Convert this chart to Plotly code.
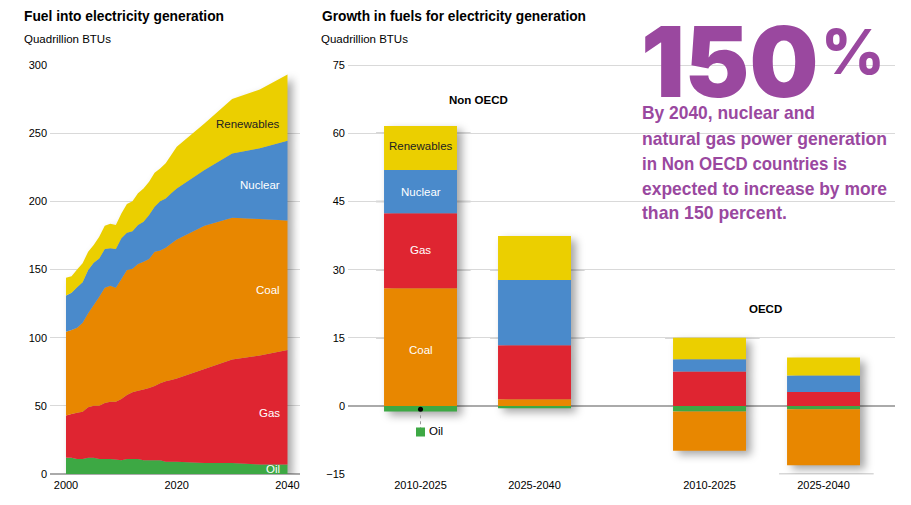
# Fuel use for electricity generation: stacked area plus growth bars.
import json
import plotly.graph_objects as go

W, H = 911, 505

years = [2000, 2001, 2002, 2003, 2004, 2005, 2006, 2007, 2008, 2009, 2010, 2011, 2012,
         2013, 2014, 2015, 2016, 2017, 2018, 2019, 2020, 2025, 2030, 2035, 2040]
oil = [12, 12, 11, 11, 12, 12, 11, 11, 11, 10.7, 10, 11, 11,
       11, 10, 10, 10, 10, 9, 9, 9, 8, 8, 7, 7]
gas = [31, 32, 34, 34.7, 37, 38, 39, 41, 42, 42.3, 45, 47, 49,
       50, 52, 53, 54.5, 56.5, 59, 60, 61, 69, 76, 80, 84]
coal = [61.4, 61.6, 62.3, 65.3, 69, 74, 80, 84.7, 85, 83.7, 88, 91.6, 90.6,
        93, 93.7, 94.7, 98.5, 97.5, 98, 100, 102, 105, 104, 100, 95]
nuclear = [26.6, 27.4, 29.7, 29.6, 31.6, 31, 28, 28.3, 27.5, 28.3, 30, 27.4, 27.4,
           28.6, 29.3, 32.3, 33, 36, 36, 37, 37.5, 41, 47, 52, 58.5]
renewables = [13, 12, 13, 13.9, 13.4, 13, 16, 17, 18.1, 17.6, 18, 21, 22,
              23.4, 24.5, 24.4, 25, 24, 26, 28, 30.5, 34, 40, 43, 48.5]

periods = ["2010-2025", "2025-2040", "2010-2025", "2025-2040"]
slots = [0, 1, 2.535, 3.535]
bar_oil = [-1.2, -0.5, -1.2, -0.7]
bar_coal = [25.9, 1.5, -8.6, -12.3]
bar_gas = [16.5, 11.9, 7.6, 3.1]
bar_nuclear = [9.5, 14.3, 2.7, 3.65]
bar_renewables = [9.7, 9.7, 4.7, 3.95]
# darker stubs of gridline that sit behind each bar
bar_stubs = [[60, 45, 30, 15], [30, 15], [15], [-15]]

callout_lines = ["By 2040, nuclear and", "natural gas power generation", "in Non OECD countries is",
                 "expected to increase by more", "than 150 percent."]
callout_widths = [173, 245, 205, 245, 145]
titles = ["Fuel into electricity generation", "Growth in fuels for electricity generation"]
title_widths = [200, 264]

colors = {"Oil": "#3DA844", "Gas": "#DF2531", "Coal": "#E88700", "Nuclear": "#4A8ACB", "Renewables": "#EBCF00"}
PURPLE = "#9A489F"
SANS = "Liberation Sans"

fig = go.Figure()

area_series = {"Oil": oil, "Gas": gas, "Coal": coal, "Nuclear": nuclear, "Renewables": renewables}
for name, vals in area_series.items():
    fig.add_trace(go.Scatter(x=years, y=vals, name=name, stackgroup="one", mode="none",
                             fillcolor=colors[name], xaxis="x", yaxis="y"))

bar_series = {"Oil": bar_oil, "Coal": bar_coal, "Gas": bar_gas, "Nuclear": bar_nuclear, "Renewables": bar_renewables}
for name, vals in bar_series.items():
    fig.add_trace(go.Bar(x=slots, y=vals, name=name, width=0.64, marker=dict(color=colors[name], line_width=0),
                         xaxis="x2", yaxis="y2"))

# Oil callout under the first bar
fig.add_trace(go.Scatter(x=[slots[0], slots[0]], y=[-0.7, -5.7], mode="lines", line=dict(color="#999", width=1, dash="dot"),
                         xaxis="x2", yaxis="y2"))
fig.add_trace(go.Scatter(x=[slots[0]], y=[-0.7], mode="markers", marker=dict(color="black", size=5),
                         xaxis="x2", yaxis="y2"))
fig.add_trace(go.Scatter(x=[slots[0]], y=[-5.7], mode="markers", marker=dict(color=colors["Oil"], size=9, symbol="square"),
                         xaxis="x2", yaxis="y2"))

for slot, stubs in zip(slots, bar_stubs):
    for v in stubs:
        fig.add_shape(type="line", xref="x2", yref="y2", x0=slot - 0.39, x1=slot + 0.44, y0=v, y1=v,
                      line=dict(color="#b0b0b0", width=1.5), layer="below")
# top gridline of the bar panel is heavier
fig.add_shape(type="line", xref="x2 domain", yref="y2", x0=0, x1=1, y0=75, y1=75,
              line=dict(color="#d9d9d9", width=2), layer="below")


def note(text, x, y, size=11.5, color="black", family=SANS, weight=None, anchor="left", xref="paper", yref="paper",
         height=None):
    # x and y are pixels when the refs are paper, data values otherwise
    if xref == "paper":
        x = x / W
    if yref == "paper":
        y = 1 - y / H
    fig.add_annotation(text=text, x=x, y=y, xref=xref, yref=yref, showarrow=False, xanchor=anchor, yanchor="middle",
                       align=anchor, height=height,
                       font=dict(size=size, color=color, family=family, weight=weight))


note(titles[0], 22, 15, size=15.5, weight="bold")
note("Quadrillion BTUs", 22, 39)
note(titles[1], 320, 15, size=15.5, weight="bold")
note("Quadrillion BTUs", 319, 39)

area_labels = {"Renewables": 256.7, "Nuclear": 212, "Coal": 135, "Gas": 44.7, "Oil": 3.7}
for name, val in area_labels.items():
    note(name, 2039, val, color="#222" if name == "Renewables" else "white", anchor="right", xref="x", yref="y")

bar_labels = {"Renewables": 57.2, "Nuclear": 47, "Gas": 34.3, "Coal": 12.3}
for name, val in bar_labels.items():
    note(name, slots[0], val, color="#222" if name == "Renewables" else "white", anchor="center", xref="x2", yref="y2")

note("Oil", 427, 431, anchor="left")
note("Non OECD", 0.513, 67.3, size=11.5, weight="bold", anchor="center", xref="x2", yref="y2")
note("OECD", 3.03, 21.3, size=11.5, weight="bold", anchor="center", xref="x2", yref="y2")

note("150", 639, 61, size=97, color=PURPLE, family="Inter", weight=900, height=78)
note("%", 819, 52, size=62, color=PURPLE, family="Inter", weight=800)
for i, line in enumerate(callout_lines):
    note(line, 640, 113 + i * 25, size=19, color=PURPLE, weight="bold")

grid = "#d9d9d9"
tickfont = dict(size=11, color="black", family=SANS)
fig.update_layout(
    width=W, height=H, margin=dict(l=0, r=0, t=0, b=0, autoexpand=False), paper_bgcolor="white", plot_bgcolor="white",
    showlegend=False, barmode="relative", hovermode=False,
    xaxis=dict(domain=[50 / W, 300 / W], range=[1997.11, 2042.26], tickvals=[2000, 2020, 2040], showgrid=False,
               zeroline=False, ticks="", tickfont=tickfont, ticklabelstandoff=3),
    yaxis=dict(domain=[1 - 474 / H, 1 - 65 / H], range=[0, 300], tickvals=[0, 50, 100, 150, 200, 250, 300],
               gridcolor=grid, zeroline=True, zerolinecolor="#aaaaaa", zerolinewidth=1.5, ticks="", tickfont=tickfont,
               ticklabelstandoff=2),
    xaxis2=dict(domain=[348 / W, 895 / W], range=[-0.636, 4.162], tickvals=slots, ticktext=periods, showgrid=False,
                zeroline=False, ticks="", tickfont=tickfont, anchor="y2", ticklabelstandoff=3),
    yaxis2=dict(domain=[1 - 474.3 / H, 1 - 65 / H], range=[-15, 75], tickvals=[-15, 0, 15, 30, 45, 60, 75],
                gridcolor=grid, zeroline=True, zerolinecolor="#aaaaaa", zerolinewidth=2, ticks="", tickfont=tickfont,
                anchor="x2", ticklabelstandoff=2),
)

# Page tweaks Plotly has no option for: no body margin, soft shadows, condensed headline text
squeeze = dict(zip(titles + callout_lines, title_widths + callout_widths))
post = """
document.body.style.margin = '0';
var drop = 'drop-shadow(5px 4px 4px rgba(0,0,0,0.35))';
document.querySelectorAll('.barlayer').forEach(function (g) { g.style.filter = drop; });
document.querySelectorAll('.xy .scatterlayer').forEach(function (g) { g.style.filter = drop; });
var squeeze = %s;
document.querySelectorAll('.annotation-text').forEach(function (t) {
    var w = squeeze[t.textContent];
    if (w) { t.setAttribute('textLength', w); t.setAttribute('lengthAdjust', 'spacingAndGlyphs'); }
});
""" % json.dumps(squeeze)
fig.write_html("out.html", post_script=post, config={"displayModeBar": False})
